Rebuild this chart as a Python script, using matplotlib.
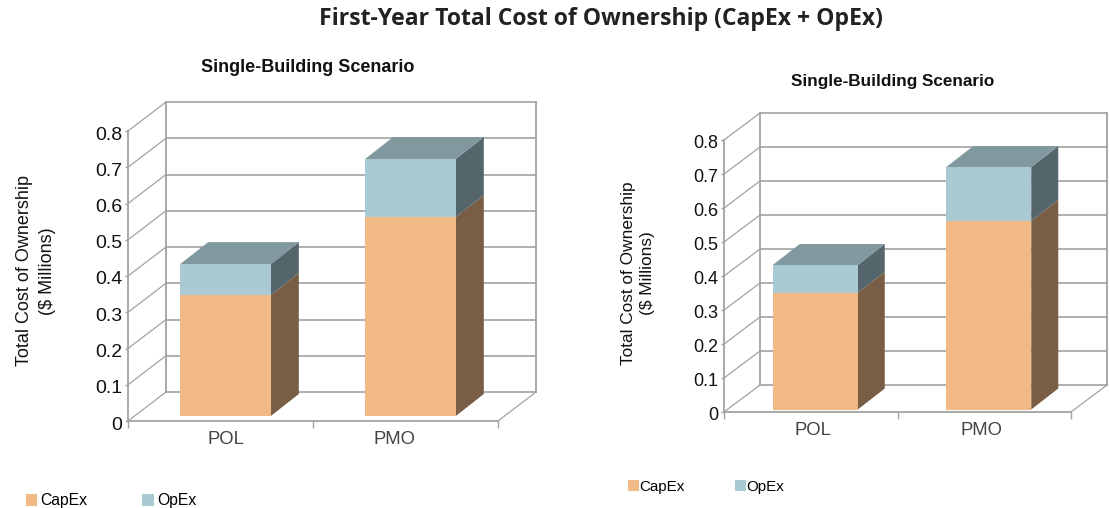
import matplotlib
matplotlib.use("Agg")
import matplotlib.pyplot as plt
from matplotlib.patches import Patch, Polygon
from matplotlib.transforms import Affine2D

plt.rcParams['font.family'] = ['Liberation Sans', 'DejaVu Sans']

W, H = 1109, 508

categories = ["POL", "PMO"]
y_ticks = [0, 0.1, 0.2, 0.3, 0.4, 0.5, 0.6, 0.7, 0.8]
y_tick_labels = ["0", "0.1", "0.2", "0.3", "0.4", "0.5", "0.6", "0.7", "0.8"]

capex_left = [0.334, 0.549]
opex_left = [0.085, 0.160]
capex_right = [0.343, 0.555]
opex_right = [0.082, 0.158]

CAPEX = ("#F0B986", "#795D44")
OPEX = ("#A9C9D3", "#54666B")
TOP = "#80989E"
GRID = "#A2A2A2"


def shifted(ax, dx, dy):
    # data coords moved by some pixels, that is how the fake depth works
    return ax.transData + Affine2D().translate(dx, dy)


def draw_box(ax, x0, x1, y0, y1, front, side, off, depth, top=None):
    t_front = shifted(ax, *off)
    t_back = shifted(ax, off[0] + depth[0], off[1] + depth[1])
    ax.add_patch(Polygon([(x0, y0), (x1, y0), (x1, y1), (x0, y1)], closed=True, fc=front, ec="none",
                         transform=t_front, zorder=4, clip_on=False))

    # side face mixes two transforms, so get it in pixels first
    pts = [t_front.transform((x1, y0)), t_back.transform((x1, y0)),
           t_back.transform((x1, y1)), t_front.transform((x1, y1))]
    ax.add_patch(Polygon(pts, closed=True, fc=side, ec="none", transform=None, zorder=3, clip_on=False))

    if top:
        pts = [t_front.transform((x0, y1)), t_front.transform((x1, y1)),
               t_back.transform((x1, y1)), t_back.transform((x0, y1))]
        ax.add_patch(Polygon(pts, closed=True, fc=top, ec="none", transform=None, zorder=3, clip_on=False))


def panel(box, capex, opex, wall, bar_off, bar_depth, label_x, tick_size):
    left, right, bottom, top = box
    ax = fig.add_axes([left / W, 1 - bottom / H, (right - left) / W, (bottom - top) / H])
    ax.set_xlim(0, 2)
    ax.set_ylim(0, 0.8)
    ax.patch.set_visible(False)
    for s in ["top", "right"]:
        ax.spines[s].set_visible(False)
    for s in ["left", "bottom"]:
        ax.spines[s].set_color(GRID)
        ax.spines[s].set_linewidth(1.3)

    ax.set_yticks(y_ticks)
    ax.set_yticklabels(y_tick_labels, fontsize=tick_size, color="#111111")
    ax.tick_params(axis="y", length=2, width=1, color=GRID, pad=2)
    # labels sit a little under their ticks in the original
    for lab in ax.get_yticklabels():
        lab.set_transform(lab.get_transform() + Affine2D().translate(0, -2))
    ax.set_xticks([0, 1, 2])
    ax.set_xticklabels([])
    ax.tick_params(axis="x", which="major", length=5, width=1, color=GRID)
    ax.set_xticks([label_x[0], label_x[1]], minor=True)
    ax.set_xticklabels(categories, minor=True, fontsize=13.3, color="#444444")
    ax.tick_params(axis="x", which="minor", length=0, pad=7)

    # back wall and the lines going to it
    back = shifted(ax, *wall)
    for v in y_ticks:
        ax.plot([0, 2], [v, v], color=GRID, lw=1.2, transform=back, clip_on=False, zorder=1)
        p0 = ax.transData.transform((0, v))
        ax.plot([p0[0], p0[0] + wall[0]], [p0[1], p0[1] + wall[1]], color=GRID, lw=0.9,
                transform=None, clip_on=False, zorder=1)
    ax.plot([0, 0], [0, 0.8], color=GRID, lw=1.3, transform=back, clip_on=False, zorder=1)
    ax.plot([2, 2], [0, 0.8], color=GRID, lw=1.3, transform=back, clip_on=False, zorder=1)
    p0 = ax.transData.transform((2, 0))
    ax.plot([p0[0], p0[0] + wall[0]], [p0[1], p0[1] + wall[1]], color=GRID, lw=0.9,
            transform=None, clip_on=False, zorder=1)

    for i in range(len(categories)):
        x0, x1 = i + 0.255, i + 0.745
        draw_box(ax, x0, x1, 0, capex[i], CAPEX[0], CAPEX[1], bar_off, bar_depth)
        draw_box(ax, x0, x1, capex[i], capex[i] + opex[i], OPEX[0], OPEX[1], bar_off, bar_depth, top=TOP)
    return ax


fig = plt.figure(figsize=(W / 100, H / 100), dpi=100)

panel((128, 498, 421, 131), capex_left, opex_left, (38, 29), (5, 5), (28, 22), (0.53, 1.44), 14)
panel((724, 1071, 412, 140), capex_right, opex_right, (36, 27), (4.5, 2.5), (27, 21), (0.515, 1.487), 13)

fig.text(601 / W, 1 - 19 / H, "First-Year Total Cost of Ownership (CapEx + OpEx)", family="Open Sans",
         fontweight="bold", fontsize=16.6, color="#222222", ha="center", va="center")
fig.text(308 / W, 1 - 68 / H, "Single-Building Scenario", fontweight="bold", fontsize=13,
         color="#111111", ha="center", va="center")
fig.text(893 / W, 1 - 82 / H, "Single-Building Scenario", fontweight="bold", fontsize=12.3,
         color="#111111", ha="center", va="center")

fig.text(36 / W, 1 - 271 / H, "Total Cost of Ownership\n($ Millions)", rotation=90, fontsize=13,
         color="#111111", ha="center", va="center", ma="center", linespacing=1.4)
fig.text(638 / W, 1 - 273 / H, "Total Cost of Ownership\n($ Millions)", rotation=90, fontsize=12.4,
         color="#111111", ha="center", va="center", ma="center", linespacing=1.4)

handles = [Patch(fc=CAPEX[0], ec="none", label="CapEx"), Patch(fc=OPEX[0], ec="none", label="OpEx")]
leg_kw = dict(ncol=2, frameon=False, handlelength=0.72, handleheight=0.72,
              borderpad=0, borderaxespad=0, loc="center left", bbox_transform=fig.transFigure)
fig.legend(handles=handles, fontsize=11.3, columnspacing=3.5, handletextpad=0.2,
           bbox_to_anchor=(26 / W, 1 - 501 / H), **leg_kw)
fig.legend(handles=handles, fontsize=10.9, columnspacing=3.3, handletextpad=0.05,
           bbox_to_anchor=(628 / W, 1 - 487 / H), **leg_kw)

fig.savefig("out.png", dpi=100)
